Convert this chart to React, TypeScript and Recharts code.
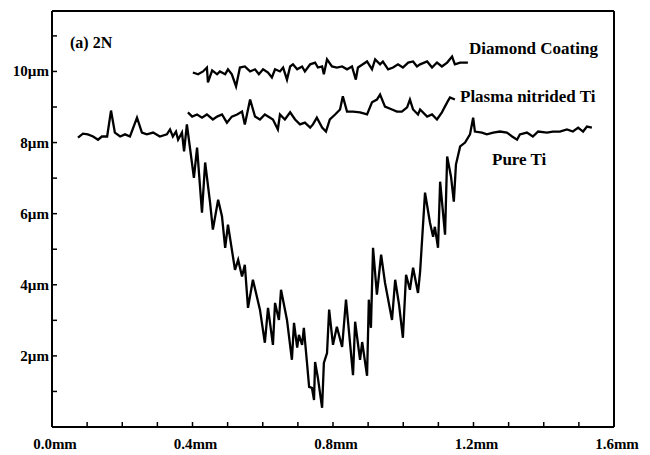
import React from 'react';
import { LineChart, Line, XAxis, YAxis } from 'recharts';

// profile depth across the scratch, x in mm, y in µm
const pureTiX = [
  0.074, 0.088, 0.102, 0.117, 0.131, 0.142, 0.157, 0.168, 0.179, 0.194, 0.208, 0.222, 0.242, 0.256, 0.27, 0.288,
  0.307, 0.327, 0.336, 0.344, 0.353, 0.359, 0.37, 0.376, 0.384, 0.404, 0.413, 0.427, 0.436, 0.45, 0.458, 0.473,
  0.484, 0.493, 0.501, 0.521, 0.53, 0.541, 0.549, 0.558, 0.572, 0.592, 0.606, 0.615, 0.629, 0.635, 0.646, 0.652,
  0.669, 0.683, 0.689, 0.698, 0.703, 0.712, 0.717, 0.726, 0.732, 0.74, 0.746, 0.749, 0.757, 0.769, 0.774, 0.783,
  0.789, 0.8, 0.811, 0.826, 0.837, 0.857, 0.863, 0.877, 0.883, 0.897, 0.902, 0.908, 0.914, 0.925, 0.937, 0.948,
  0.968, 0.977, 0.988, 0.999, 1.008, 1.019, 1.028, 1.042, 1.048, 1.062, 1.076, 1.085, 1.09, 1.099, 1.105, 1.119,
  1.125, 1.136, 1.144, 1.15, 1.162, 1.176, 1.19, 1.199, 1.204, 1.224, 1.238, 1.256, 1.275, 1.295, 1.31, 1.324,
  1.332, 1.352, 1.369, 1.384, 1.409, 1.426, 1.446, 1.466, 1.483, 1.498, 1.512, 1.523, 1.537,
];
const pureTiY = [
  8.14, 8.25, 8.23, 8.17, 8.08, 8.17, 8.17, 8.9, 8.28, 8.17, 8.23, 8.17, 8.7, 8.28, 8.23, 8.28,
  8.17, 8.23, 8.37, 8.17, 8.31, 8.08, 8.28, 7.75, 8.51, 7.01, 7.86, 6.03, 7.44, 6.31, 5.55, 6.39,
  5.92, 5.04, 5.69, 4.42, 4.7, 4.23, 4.56, 3.35, 4.14, 3.3, 2.37, 3.35, 2.31, 3.49, 3.01, 3.86,
  3.01, 1.89, 2.93, 2.23, 2.59, 2.31, 2.79, 1.8, 1.13, 1.1, 0.76, 1.83, 1.38, 0.54, 1.8, 2.08,
  3.3, 2.31, 2.82, 2.25, 3.58, 1.46, 2.96, 1.89, 2.39, 1.44, 3.58, 2.79, 5.04, 3.72, 4.85, 4.06,
  3.01, 4.14, 3.44, 2.51, 4.28, 3.86, 4.48, 3.77, 4.37, 6.59, 5.75, 5.35, 5.63, 5.04, 6.9, 5.41,
  7.61, 7.04, 6.34, 7.38, 7.89, 8.0, 8.23, 8.7, 8.31, 8.28, 8.23, 8.28, 8.31, 8.28, 8.17, 8.08,
  8.23, 8.28, 8.17, 8.31, 8.28, 8.31, 8.31, 8.37, 8.31, 8.42, 8.31, 8.45, 8.42,
];

const diamondX = [
  0.401, 0.416, 0.43, 0.441, 0.444, 0.456, 0.47, 0.478, 0.493, 0.501, 0.512, 0.524, 0.535, 0.549, 0.564, 0.578,
  0.589, 0.601, 0.615, 0.626, 0.635, 0.649, 0.658, 0.669, 0.678, 0.686, 0.698, 0.712, 0.72, 0.735, 0.749, 0.757,
  0.769, 0.774, 0.783, 0.797, 0.811, 0.826, 0.84, 0.854, 0.865, 0.871, 0.885, 0.897, 0.911, 0.92, 0.934, 0.942,
  0.957, 0.971, 0.985, 0.999, 1.014, 1.028, 1.039, 1.048, 1.068, 1.082, 1.096, 1.11, 1.125, 1.139, 1.147, 1.162,
  1.184,
];
const diamondY = [
  9.97, 9.92, 10.0, 10.11, 9.69, 10.03, 9.92, 10.0, 9.92, 10.06, 9.92, 9.58, 10.11, 10.14, 10.0, 10.06,
  9.92, 10.06, 9.97, 9.83, 10.06, 10.0, 10.11, 9.77, 10.14, 10.2, 10.06, 10.14, 10.0, 10.2, 10.25, 10.11,
  10.14, 9.92, 10.34, 10.14, 10.11, 10.14, 10.06, 10.14, 9.77, 10.11, 10.2, 10.28, 10.06, 10.34, 10.2, 10.28,
  10.06, 10.11, 10.2, 10.11, 10.25, 10.28, 10.14, 10.2, 10.28, 10.11, 10.25, 10.14, 10.25, 10.42, 10.2, 10.25,
  10.25,
];

const plasmaX = [
  0.387, 0.399, 0.413, 0.427, 0.441, 0.458, 0.47, 0.484, 0.498, 0.512, 0.527, 0.541, 0.549, 0.564, 0.578, 0.592,
  0.606, 0.621, 0.629, 0.643, 0.649, 0.663, 0.678, 0.692, 0.706, 0.72, 0.735, 0.743, 0.754, 0.769, 0.78, 0.791,
  0.806, 0.82, 0.828, 0.84, 0.857, 0.877, 0.897, 0.911, 0.925, 0.934, 0.948, 0.968, 0.982, 0.996, 1.011, 1.019,
  1.028, 1.042, 1.048, 1.068, 1.082, 1.096, 1.11, 1.125, 1.133, 1.147,
];
const plasmaY = [
  8.85, 8.73, 8.79, 8.7, 8.79, 8.65, 8.73, 8.79, 8.56, 8.73, 8.79, 8.87, 8.51, 9.21, 8.73, 8.65,
  8.79, 8.7, 8.65, 8.37, 8.79, 8.65, 8.85, 8.65, 8.51, 8.56, 8.42, 8.51, 8.7, 8.42, 8.31, 8.65,
  8.79, 8.93, 9.3, 8.87, 8.87, 8.85, 8.79, 9.13, 9.21, 9.35, 9.01, 8.93, 8.87, 8.87, 8.99, 9.21,
  8.93, 8.79, 8.93, 8.73, 8.79, 8.65, 8.85, 9.13, 9.27, 9.21,
];

const xTicks = [0, 0.1, 0.2, 0.3, 0.4, 0.5, 0.6, 0.7, 0.8, 0.9, 1.0, 1.1, 1.2, 1.3, 1.4, 1.5, 1.6];
const xLabelValues = [0, 0.4, 0.8, 1.2, 1.6];
const xLabels = ['0.0mm', '0.4mm', '0.8mm', '1.2mm', '1.6mm'];
const yTicks = [0, 1, 2, 3, 4, 5, 6, 7, 8, 9, 10, 11];
const yLabelValues = [2, 4, 6, 8, 10];
const yLabels = ['2µm', '4µm', '6µm', '8µm', '10µm'];

const zip = (xs: number[], ys: number[]) => xs.map((x, i) => ({ x, y: ys[i] }));
const pureTi = zip(pureTiX, pureTiY);
const diamond = zip(diamondX, diamondY);
const plasma = zip(plasmaX, plasmaY);

const FONT = '"Liberation Serif", "Times New Roman", serif';
const near = (a: number, b: number) => Math.abs(a - b) < 1e-6;
const labelFor = (v: number, vals: number[], labels: string[]) => {
  const i = vals.findIndex((t) => near(t, v));
  return i >= 0 ? labels[i] : null;
};

const BottomTick = (props: any) => {
  const { x, y, payload } = props;
  const v = payload.value;
  const edge = near(v, 0) || near(v, 1.6);
  const label = labelFor(v, xLabelValues, xLabels);
  return (
    <g>
      {!edge && <line x1={x} y1={y} x2={x} y2={y - 5} stroke="#000" strokeWidth={1.5} />}
      {label && (
        <text x={x + 3} y={y + 22} textAnchor="middle" fontFamily={FONT} fontWeight="bold" fontSize={15} fill="#000">
          {label}
        </text>
      )}
    </g>
  );
};

const TopTick = (props: any) => {
  const { x, y, payload } = props;
  const v = payload.value;
  if (near(v, 0) || near(v, 1.6)) return <g />;
  return <line x1={x} y1={y} x2={x} y2={y + 5} stroke="#000" strokeWidth={1.5} />;
};

const LeftTick = (props: any) => {
  const { x, y, payload } = props;
  const v = payload.value;
  const label = labelFor(v, yLabelValues, yLabels);
  return (
    <g>
      {!near(v, 0) && <line x1={x} y1={y} x2={x + 5} y2={y} stroke="#000" strokeWidth={1.5} />}
      {label && (
        <text x={x - 3} y={y + 5} textAnchor="end" fontFamily={FONT} fontWeight="bold" fontSize={15} fill="#000">
          {label}
        </text>
      )}
    </g>
  );
};

const RightTick = (props: any) => {
  const { x, y, payload } = props;
  if (near(payload.value, 0)) return <g />;
  return <line x1={x} y1={y} x2={x - 5} y2={y} stroke="#000" strokeWidth={1.5} />;
};

const labelStyle = { fontFamily: FONT, fontWeight: 'bold' as const, fill: '#000' };

export default function App() {
  return (
    <div style={{ position: 'absolute', left: 0, top: 0, width: 650, height: 455, background: '#fff' }}>
      <LineChart width={650} height={455} margin={{ top: 0, right: 0, bottom: 0, left: 0 }}>
        <XAxis
          dataKey="x"
          type="number"
          domain={[0, 1.6]}
          ticks={xTicks}
          interval={0}
          height={28}
          tickSize={0}
          tickMargin={0}
          tickLine={false}
          tick={<BottomTick />}
          axisLine={{ stroke: '#000', strokeWidth: 2 }}
          allowDataOverflow
        />
        <XAxis
          xAxisId="top"
          orientation="top"
          dataKey="x"
          type="number"
          domain={[0, 1.6]}
          ticks={xTicks}
          interval={0}
          height={11}
          tickSize={0}
          tickMargin={0}
          tickLine={false}
          tick={<TopTick />}
          axisLine={{ stroke: '#000', strokeWidth: 2 }}
        />
        <YAxis
          type="number"
          domain={[0, 11.7]}
          ticks={yTicks}
          interval={0}
          width={52}
          tickSize={0}
          tickMargin={0}
          tickLine={false}
          tick={<LeftTick />}
          axisLine={{ stroke: '#000', strokeWidth: 2 }}
          allowDataOverflow
        />
        <YAxis
          yAxisId="right"
          orientation="right"
          type="number"
          domain={[0, 11.7]}
          ticks={yTicks}
          interval={0}
          width={36}
          tickSize={0}
          tickMargin={0}
          tickLine={false}
          tick={<RightTick />}
          axisLine={{ stroke: '#000', strokeWidth: 2 }}
        />
        <Line data={pureTi} dataKey="y" type="linear" stroke="#000" strokeWidth={2.3} dot={false} isAnimationActive={false} />
        <Line data={plasma} dataKey="y" type="linear" stroke="#000" strokeWidth={2.3} dot={false} isAnimationActive={false} />
        <Line data={diamond} dataKey="y" type="linear" stroke="#000" strokeWidth={2.3} dot={false} isAnimationActive={false} />
        <text x={70} y={48} fontSize={16} {...labelStyle}>(a) 2N</text>
        <text x={469} y={54} fontSize={17} {...labelStyle}>Diamond Coating</text>
        <text x={460} y={102} fontSize={17} {...labelStyle}>Plasma nitrided Ti</text>
        <text x={492} y={165} fontSize={17} {...labelStyle}>Pure Ti</text>
      </LineChart>
    </div>
  );
}
